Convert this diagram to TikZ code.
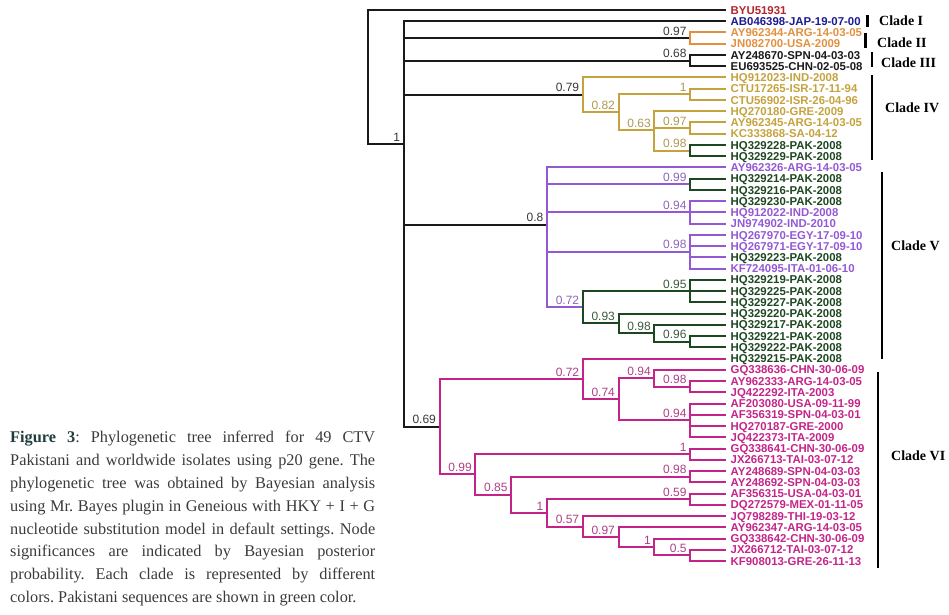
\documentclass[tikz,border=0pt]{standalone}
\usepackage{fontspec}
\setmainfont{Liberation Serif}
\newfontfamily\sansf{Liberation Sans}
\definecolor{cBlk}{HTML}{1A1A1A}
\definecolor{cRed}{HTML}{B3262C}
\definecolor{cNavy}{HTML}{1B1B8F}
\definecolor{cOra}{HTML}{E2903F}
\definecolor{cGold}{HTML}{C4A33E}
\definecolor{cGrn}{HTML}{1D4720}
\definecolor{cPur}{HTML}{9358D4}
\definecolor{cMag}{HTML}{C42489}
\definecolor{capgray}{HTML}{3A3A3A}
\definecolor{figc}{HTML}{1F3D3C}
\newcommand{\lbfont}{\sansf\bfseries\fontsize{11.4}{12}\selectfont}
\newcommand{\ppfont}{\sansf\fontsize{12}{13}\selectfont}
\newcommand{\clfont}{\bfseries\fontsize{14}{15}\selectfont}
\newcommand{\capfont}{\fontsize{16.3}{22.86}\selectfont\frenchspacing}
\tikzset{
    LB/.style ={anchor=west, inner xsep=4.5pt, inner ysep=0pt, text height=8.2pt, text depth=0pt, font=\lbfont},
    PP/.style ={anchor=south east, inner xsep=3.5pt, inner ysep=2.5pt, font=\ppfont, text=#1!70!gray},
    BR/.style ={draw=#1, line width=2pt},
    CL/.style ={anchor=west, inner sep=0pt, text height=9pt, text depth=0pt, font=\clfont},
    CB/.style ={line width=2.8pt},
    CAP/.style ={anchor=north west, inner sep=0pt, text width=365pt, align=justify, font=\capfont, text=capgray}}

\begin{document}
\begin{tikzpicture}[x=1pt,y=-1pt]
        \useasboundingbox (0,0) rectangle (949,614);
        % leaves
        \node[LB,text=cRed] (l0) at (726,10.0){BYU51931};
        \node[LB,text=cNavy] (l1) at (726,21.25){AB046398-JAP-19-07-00};
        \node[LB,text=cOra] (l2) at (726,32.49){AY962344-ARG-14-03-05};
        \node[LB,text=cOra] (l3) at (726,43.74){JN082700-USA-2009};
        \node[LB,text=cBlk] (l4) at (726,54.98){AY248670-SPN-04-03-03};
        \node[LB,text=cBlk] (l5) at (726,66.23){EU693525-CHN-02-05-08};
        \node[LB,text=cGold] (l6) at (726,77.47){HQ912023-IND-2008};
        \node[LB,text=cGold] (l7) at (726,88.72){CTU17265-ISR-17-11-94};
        \node[LB,text=cGold] (l8) at (726,99.96){CTU56902-ISR-26-04-96};
        \node[LB,text=cGold] (l9) at (726,111.21){HQ270180-GRE-2009};
        \node[LB,text=cGold] (l10) at (726,122.45){AY962345-ARG-14-03-05};
        \node[LB,text=cGold] (l11) at (726,133.70){KC333868-SA-04-12};
        \node[LB,text=cGrn] (l12) at (726,144.94){HQ329228-PAK-2008};
        \node[LB,text=cGrn] (l13) at (726,156.19){HQ329229-PAK-2008};
        \node[LB,text=cPur] (l14) at (726,167.43){AY962326-ARG-14-03-05};
        \node[LB,text=cGrn] (l15) at (726,178.68){HQ329214-PAK-2008};
        \node[LB,text=cGrn] (l16) at (726,189.92){HQ329216-PAK-2008};
        \node[LB,text=cGrn] (l17) at (726,201.17){HQ329230-PAK-2008};
        \node[LB,text=cPur] (l18) at (726,212.41){HQ912022-IND-2008};
        \node[LB,text=cPur] (l19) at (726,223.66){JN974902-IND-2010};
        \node[LB,text=cPur] (l20) at (726,234.90){HQ267970-EGY-17-09-10};
        \node[LB,text=cPur] (l21) at (726,246.15){HQ267971-EGY-17-09-10};
        \node[LB,text=cGrn] (l22) at (726,257.39){HQ329223-PAK-2008};
        \node[LB,text=cPur] (l23) at (726,268.64){KF724095-ITA-01-06-10};
        \node[LB,text=cGrn] (l24) at (726,279.88){HQ329219-PAK-2008};
        \node[LB,text=cGrn] (l25) at (726,291.13){HQ329225-PAK-2008};
        \node[LB,text=cGrn] (l26) at (726,302.37){HQ329227-PAK-2008};
        \node[LB,text=cGrn] (l27) at (726,313.62){HQ329220-PAK-2008};
        \node[LB,text=cGrn] (l28) at (726,324.86){HQ329217-PAK-2008};
        \node[LB,text=cGrn] (l29) at (726,336.11){HQ329221-PAK-2008};
        \node[LB,text=cGrn] (l30) at (726,347.35){HQ329222-PAK-2008};
        \node[LB,text=cGrn] (l31) at (726,358.60){HQ329215-PAK-2008};
        \node[LB,text=cMag] (l32) at (726,369.84){GQ338636-CHN-30-06-09};
        \node[LB,text=cMag] (l33) at (726,381.09){AY962333-ARG-14-03-05};
        \node[LB,text=cMag] (l34) at (726,392.33){JQ422292-ITA-2003};
        \node[LB,text=cMag] (l35) at (726,403.58){AF203080-USA-09-11-99};
        \node[LB,text=cMag] (l36) at (726,414.82){AF356319-SPN-04-03-01};
        \node[LB,text=cMag] (l37) at (726,426.07){HQ270187-GRE-2000};
        \node[LB,text=cMag] (l38) at (726,437.31){JQ422373-ITA-2009};
        \node[LB,text=cMag] (l39) at (726,448.56){GQ338641-CHN-30-06-09};
        \node[LB,text=cMag] (l40) at (726,459.80){JX266713-TAI-03-07-12};
        \node[LB,text=cMag] (l41) at (726,471.05){AY248689-SPN-04-03-03};
        \node[LB,text=cMag] (l42) at (726,482.29){AY248692-SPN-04-03-03};
        \node[LB,text=cMag] (l43) at (726,493.54){AF356315-USA-04-03-01};
        \node[LB,text=cMag] (l44) at (726,504.78){DQ272579-MEX-01-11-05};
        \node[LB,text=cMag] (l45) at (726,516.03){JQ798289-THI-19-03-12};
        \node[LB,text=cMag] (l46) at (726,527.27){AY962347-ARG-14-03-05};
        \node[LB,text=cMag] (l47) at (726,538.52){GQ338642-CHN-30-06-09};
        \node[LB,text=cMag] (l48) at (726,549.76){JX266712-TAI-03-07-12};
        \node[LB,text=cMag] (l49) at (726,561.01){KF908013-GRE-26-11-13};
        % inner nodes
        \coordinate (r) at (368,77.2);
        \coordinate (A) at (403.8,144.35);
        \coordinate (c2) at (690.2,38.1);
        \coordinate (c3) at (690.2,60.6);
        \coordinate (c4) at (582.8,94.8);
        \coordinate (n82) at (618.6,112.15);
        \coordinate (n1a) at (690.2,94.35);
        \coordinate (n63) at (654.4,129.95);
        \coordinate (n97) at (690.2,128.1);
        \coordinate (n98) at (690.2,150.55);
        \coordinate (c5) at (547,224.64);
        \coordinate (v99) at (690.2,184.3);
        \coordinate (v94) at (690.2,212.4);
        \coordinate (v98) at (690.2,251.76);
        \coordinate (v72) at (582.8,307.29);
        \coordinate (v95) at (690.2,291.13);
        \coordinate (v93) at (618.6,323.45);
        \coordinate (v98b) at (654.4,333.3);
        \coordinate (v96) at (690.2,341.73);
        \coordinate (c6) at (439.6,426.73);
        \coordinate (w72) at (582.8,378.98);
        \coordinate (w74) at (618.6,399.37);
        \coordinate (w94a) at (654.4,378.28);
        \coordinate (w98a) at (690.2,386.71);
        \coordinate (w94b) at (690.2,420.45);
        \coordinate (w99) at (475.4,474.48);
        \coordinate (w1a) at (690.2,454.18);
        \coordinate (w85) at (511.2,494.77);
        \coordinate (w98b) at (690.2,476.67);
        \coordinate (w1b) at (547,512.87);
        \coordinate (w59) at (690.2,499.16);
        \coordinate (w57) at (582.8,526.58);
        \coordinate (w97) at (618.6,537.12);
        \coordinate (w1c) at (654.4,546.96);
        \coordinate (w50) at (690.2,555.39);
        % branches
        \draw[BR=cBlk] (r) |- (l0) (r) |- (A);
        \draw[BR=cBlk] (A) |- (l1) (A) |- (c2) (A) |- (c3) (A) |- (c4) (A) |- (c5) (A) |- (c6);
        \draw[BR=cOra] (c2) |- (l2) (c2) |- (l3);
        \draw[BR=cBlk] (c3) |- (l4) (c3) |- (l5);
        \draw[BR=cGold] (c4) |- (l6) (c4) |- (n82);
        \draw[BR=cGold] (n82) |- (n1a) (n82) |- (n63);
        \draw[BR=cGold] (n1a) |- (l7) (n1a) |- (l8);
        \draw[BR=cGold] (n63) |- (l9) (n63) |- (n97) (n63) |- (n98);
        \draw[BR=cGold] (n97) |- (l10) (n97) |- (l11);
        \draw[BR=cGrn] (n98) |- (l12) (n98) |- (l13);
        \draw[BR=cPur] (c5) |- (l14) (c5) |- (v99) (c5) |- (v94) (c5) |- (v98) (c5) |- (v72);
        \draw[BR=cGrn] (v99) |- (l15) (v99) |- (l16);
        \draw[BR=cPur] (v94) |- (l17) (v94) |- (l18) (v94) |- (l19);
        \draw[BR=cPur] (v98) |- (l20) (v98) |- (l21) (v98) |- (l22) (v98) |- (l23);
        \draw[BR=cGrn] (v72) |- (v95) (v72) |- (v93);
        \draw[BR=cGrn] (v95) |- (l24) (v95) |- (l25) (v95) |- (l26);
        \draw[BR=cGrn] (v93) |- (l27) (v93) |- (v98b);
        \draw[BR=cGrn] (v98b) |- (l28) (v98b) |- (v96);
        \draw[BR=cGrn] (v96) |- (l29) (v96) |- (l30);
        \draw[BR=cMag] (c6) |- (w72) (c6) |- (w99);
        \draw[BR=cMag] (w72) |- (l31) (w72) |- (w74);
        \draw[BR=cMag] (w74) |- (w94a) (w74) |- (w94b);
        \draw[BR=cMag] (w94a) |- (l32) (w94a) |- (w98a);
        \draw[BR=cMag] (w98a) |- (l33) (w98a) |- (l34);
        \draw[BR=cMag] (w94b) |- (l35) (w94b) |- (l36) (w94b) |- (l37) (w94b) |- (l38);
        \draw[BR=cMag] (w99) |- (w1a) (w99) |- (w85);
        \draw[BR=cMag] (w1a) |- (l39) (w1a) |- (l40);
        \draw[BR=cMag] (w85) |- (w98b) (w85) |- (w1b);
        \draw[BR=cMag] (w98b) |- (l41) (w98b) |- (l42);
        \draw[BR=cMag] (w1b) |- (w59) (w1b) |- (w57);
        \draw[BR=cMag] (w59) |- (l43) (w59) |- (l44);
        \draw[BR=cMag] (w57) |- (l45) (w57) |- (w97);
        \draw[BR=cMag] (w97) |- (l46) (w97) |- (w1c);
        \draw[BR=cMag] (w1c) |- (l47) (w1c) |- (w50);
        \draw[BR=cMag] (w50) |- (l48) (w50) |- (l49);
        % posterior probabilities
        \node[PP=cBlk] (pA) at (A){1};
        \node[PP=cBlk] (p2) at (c2){0.97};
        \node[PP=cBlk] (p3) at (c3){0.68};
        \node[PP=cBlk] (p4) at (c4){0.79};
        \node[PP=cGold] (p82) at (n82){0.82};
        \node[PP=cGold] (p1a) at (n1a){1};
        \node[PP=cGold] (p63) at (n63){0.63};
        \node[PP=cGold] (p97) at (n97){0.97};
        \node[PP=cGold] (p98) at (n98){0.98};
        \node[PP=cBlk] (p5) at (c5){0.8};
        \node[PP=cPur] (q99) at (v99){0.99};
        \node[PP=cPur] (q94) at (v94){0.94};
        \node[PP=cPur] (q98) at (v98){0.98};
        \node[PP=cPur] (q72) at (v72){0.72};
        \node[PP=cGrn] (q95) at (v95){0.95};
        \node[PP=cGrn] (q93) at (v93){0.93};
        \node[PP=cGrn] (q98b) at (v98b){0.98};
        \node[PP=cGrn] (q96) at (v96){0.96};
        \node[PP=cBlk] (p6) at (c6){0.69};
        \node[PP=cMag] (s72) at (w72){0.72};
        \node[PP=cMag] (s74) at (w74){0.74};
        \node[PP=cMag] (s94a) at (w94a){0.94};
        \node[PP=cMag] (s98a) at (w98a){0.98};
        \node[PP=cMag] (s94b) at (w94b){0.94};
        \node[PP=cMag] (s99) at (w99){0.99};
        \node[PP=cMag] (s1a) at (w1a){1};
        \node[PP=cMag] (s85) at (w85){0.85};
        \node[PP=cMag] (s98b) at (w98b){0.98};
        \node[PP=cMag] (s1b) at (w1b){1};
        \node[PP=cMag] (s59) at (w59){0.59};
        \node[PP=cMag] (s57) at (w57){0.57};
        \node[PP=cMag] (s97) at (w97){0.97};
        \node[PP=cMag] (s1c) at (w1c){1};
        \node[PP=cMag] (s50) at (w50){0.5};
        % clades
        \draw[CB] (867.5,15) -- (867.5,27);
        \draw[CB] (865.3,32.5) -- (865.3,48);
        \draw[CB] (872,52) -- (872,67);
        \draw[CB] (872,75) -- (872,160);
        \draw[CB] (882,172) -- (882,359);
        \draw[CB] (878,372) -- (878,568);
        \node[CL] (k1) at (879,20.5){Clade I};
        \node[CL] (k2) at (877,42.5){Clade II};
        \node[CL] (k3) at (881,62.5){Clade III};
        \node[CL] (k4) at (885,108){Clade IV};
        \node[CL] (k5) at (891,246){Clade V};
        \node[CL] (k6) at (891,456){Clade VI};
        % caption
        \node[CAP] (cap) at (10,431){{\color{figc}\bfseries Figure 3}: Phylogenetic tree inferred for 49 CTV\linebreak
        Pakistani and worldwide isolates using p20 gene. The\linebreak
        phylogenetic tree was obtained by Bayesian analysis\linebreak
        using Mr.\ Bayes plugin in Geneious with HKY + I + G\linebreak
        nucleotide substitution model in default settings. Node\linebreak
        significances are indicated by Bayesian posterior\linebreak
        probability. Each clade is represented by different\linebreak
        colors. Pakistani sequences are shown in green color.};
    \end{tikzpicture}
\end{document}
